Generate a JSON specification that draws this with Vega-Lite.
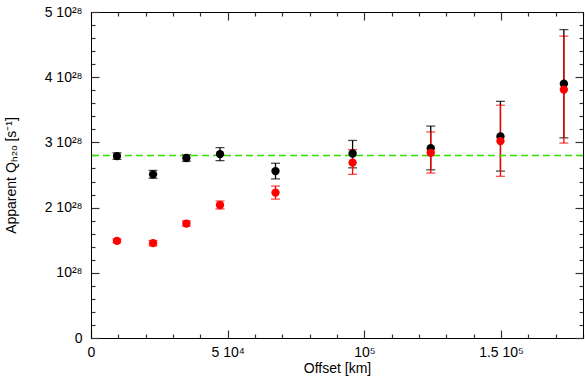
{
  "$schema": "https://vega.github.io/schema/vega-lite/v6.json",
  "autosize": "none",
  "width": 492,
  "height": 326,
  "padding": {"left": 91, "top": 12, "right": 2, "bottom": 43},
  "background": "white",
  "config": {
    "view": {"stroke": "black", "strokeWidth": 1},
    "font": "Liberation Sans",
    "axis": {"labelFont": "Liberation Sans", "titleFont": "Liberation Sans", "labelFontSize": 14, "titleFontSize": 14, "titleFontWeight": "normal", "labelColor": "#000", "titleColor": "#000", "grid": false, "domainColor": "#000", "tickColor": "#333", "tickWidth": 1.2}
  },
  "datasets": {
    "pts": [
      {"series": "A", "x": 9500, "y": 2.79e28, "lo": 2.74e28, "hi": 2.84e28},
      {"series": "A", "x": 22700, "y": 2.51e28, "lo": 2.45e28, "hi": 2.57e28},
      {"series": "A", "x": 34900, "y": 2.76e28, "lo": 2.71e28, "hi": 2.81e28},
      {"series": "A", "x": 47200, "y": 2.82e28, "lo": 2.72e28, "hi": 2.92e28},
      {"series": "A", "x": 67500, "y": 2.56e28, "lo": 2.44e28, "hi": 2.68e28},
      {"series": "A", "x": 95700, "y": 2.83e28, "lo": 2.61e28, "hi": 3.03e28},
      {"series": "A", "x": 124300, "y": 2.91e28, "lo": 2.58e28, "hi": 3.25e28},
      {"series": "A", "x": 149800, "y": 3.09e28, "lo": 2.56e28, "hi": 3.63e28},
      {"series": "A", "x": 173000, "y": 3.9e28, "lo": 3.07e28, "hi": 4.73e28},
      {"series": "B", "x": 9500, "y": 1.49e28, "lo": 1.46e28, "hi": 1.52e28},
      {"series": "B", "x": 22700, "y": 1.455e28, "lo": 1.415e28, "hi": 1.495e28},
      {"series": "B", "x": 34900, "y": 1.755e28, "lo": 1.715e28, "hi": 1.795e28},
      {"series": "B", "x": 47200, "y": 2.04e28, "lo": 1.98e28, "hi": 2.1e28},
      {"series": "B", "x": 67500, "y": 2.23e28, "lo": 2.13e28, "hi": 2.33e28},
      {"series": "B", "x": 95700, "y": 2.69e28, "lo": 2.51e28, "hi": 2.89e28},
      {"series": "B", "x": 124300, "y": 2.84e28, "lo": 2.53e28, "hi": 3.16e28},
      {"series": "B", "x": 149800, "y": 3.02e28, "lo": 2.48e28, "hi": 3.57e28},
      {"series": "B", "x": 173000, "y": 3.81e28, "lo": 2.99e28, "hi": 4.63e28}
    ],
    "ref": [{"q": 2.8e28}]
  },
  "resolve": {"axis": {"x": "independent", "y": "independent"}},
  "layer": [
    {
      "data": {"name": "pts"},
      "mark": {"type": "errorbar", "ticks": {"size": 9, "thickness": 1.3}, "thickness": 1.3},
      "encoding": {
        "x": {"field": "x", "type": "quantitative",
          "scale": {"domain": [0, 180000], "nice": false, "zero": false},
          "axis": {"orient": "bottom", "title": "Offset [km]", "titlePadding": -2,
            "values": [0,10000,20000,30000,40000,50000,60000,70000,80000,90000,100000,110000,120000,130000,140000,150000,160000,170000,180000],
            "labelExpr": "datum.value == 0 ? '0' : datum.value == 50000 ? '5 10⁴' : datum.value == 100000 ? '10⁵' : datum.value == 150000 ? '1.5 10⁵' : ''",
            "tickSize": {"condition": {"test": "datum.value % 50000 == 0", "value": -8}, "value": -4},
            "labelPadding": 15, "labelFlush": false, "labelOverlap": false}},
        "y": {"field": "lo", "type": "quantitative",
          "scale": {"domain": [0, 5e28], "nice": false, "zero": false},
          "axis": {"orient": "left", "title": "Apparent Qₕ₂ₒ [s⁻¹]", "titlePadding": 26,
            "values": [0,2e27,4e27,6e27,8e27,1e28,1.2e28,1.4e28,1.6e28,1.8e28,2e28,2.2e28,2.4e28,2.6e28,2.8e28,3e28,3.2e28,3.4e28,3.6e28,3.8e28,4e28,4.2e28,4.4e28,4.6e28,4.8e28,5e28],
            "labelExpr": "datum.value == 0 ? '0' : abs(datum.value - 1e28) < 1e26 ? '10²⁸' : abs(datum.value/1e28 - round(datum.value/1e28)) < 0.01 ? round(datum.value/1e28) + ' 10²⁸' : ''",
            "tickSize": {"condition": {"test": "abs(datum.value/1e28 - round(datum.value/1e28)) < 0.01", "value": -8}, "value": -4},
            "labelPadding": 17, "labelFlush": false, "labelOverlap": false}},
        "y2": {"field": "hi"},
        "color": {"field": "series", "type": "nominal", "scale": {"domain": ["A", "B"], "range": ["#000000", "#ff0000"]}, "legend": null}
      }
    },
    {
      "data": {"name": "ref"},
      "mark": {"type": "rule", "color": "#33e000", "strokeWidth": 1.5, "strokeDash": [7, 4]},
      "encoding": {
        "y": {"field": "q", "type": "quantitative", "axis": null}
      }
    },
    {
      "data": {"name": "pts"},
      "mark": {"type": "point", "filled": true, "opacity": 1, "size": 70, "shape": "circle"},
      "encoding": {
        "x": {"field": "x", "type": "quantitative",
          "axis": {"orient": "top", "title": null, "labels": false, "domain": true,
            "values": [0,10000,20000,30000,40000,50000,60000,70000,80000,90000,100000,110000,120000,130000,140000,150000,160000,170000,180000],
            "tickSize": {"condition": {"test": "datum.value % 50000 == 0", "value": -8}, "value": -4}}},
        "y": {"field": "y", "type": "quantitative",
          "axis": {"orient": "right", "title": null, "labels": false, "domain": true,
            "values": [0,2e27,4e27,6e27,8e27,1e28,1.2e28,1.4e28,1.6e28,1.8e28,2e28,2.2e28,2.4e28,2.6e28,2.8e28,3e28,3.2e28,3.4e28,3.6e28,3.8e28,4e28,4.2e28,4.4e28,4.6e28,4.8e28,5e28],
            "tickSize": {"condition": {"test": "abs(datum.value/1e28 - round(datum.value/1e28)) < 0.01", "value": -8}, "value": -4}}},
        "color": {"field": "series", "type": "nominal", "scale": {"domain": ["A", "B"], "range": ["#000000", "#ff0000"]}, "legend": null}
      }
    }
  ]
}
